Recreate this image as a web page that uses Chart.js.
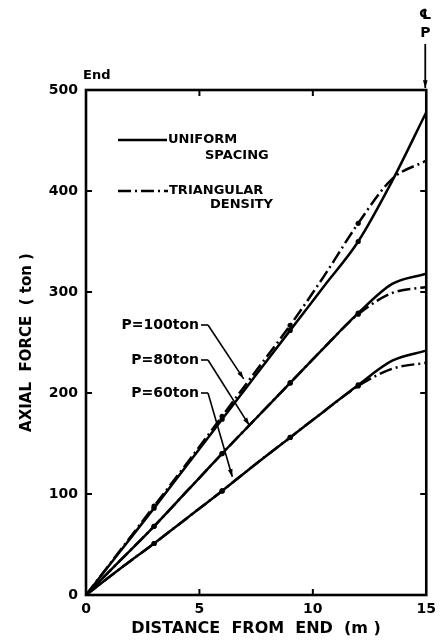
<!DOCTYPE html>
<html>
<head>
<meta charset="utf-8">
<script src="https://cdn.jsdelivr.net/npm/chart.js@4.4.1/dist/chart.umd.min.js"></script>
<style>
html, body { margin: 0; padding: 0; background: #fff; }
#wrap { width: 442px; height: 644px; }
</style>
</head>
<body>
<div id="wrap"><canvas id="forceChart" width="442" height="644"></canvas></div>
<script>
// distance from end (m)
var distances = [0, 1.5, 3, 4.5, 6, 7.5, 9, 10.5, 12, 13.5, 15];
var markedAt = [3, 6, 9, 12];

// axial force (ton), uniform spacing
var uniform100 = [0, 43, 86, 130, 174, 218, 262, 306, 350, 410, 478];
var uniform80  = [0, 34, 68, 104, 140, 175, 210, 245, 279, 308, 318];
var uniform60  = [0, 26, 51, 77, 103, 130, 156, 182, 208, 232, 242];

// axial force (ton), triangular density
var triangular100 = [0, 44, 88, 132, 177, 222, 267, 316, 368, 412, 430];
var triangular80  = [0, 34, 68, 104, 140, 175, 210, 245, 278, 299, 305];
var triangular60  = [0, 26, 51, 77, 103, 130, 156, 182, 207, 224, 230];

var xTicks = [0, 5, 10, 15];
var yTicks = [0, 100, 200, 300, 400, 500];

var loadLabels = ["P=100ton", "P=80ton", "P=60ton"];

var FONT = "'DejaVu Sans', sans-serif";

function pts(ys) {
  return distances.map(function (d, i) { return { x: d, y: ys[i] }; });
}

function line(label, ys, dashed) {
  return {
    label: label,
    data: pts(ys),
    borderColor: "#000",
    borderWidth: 2.5,
    borderDash: dashed ? [13, 4, 2, 4] : [],
    cubicInterpolationMode: "monotone",
    fill: false,
    pointRadius: function (c) { return markedAt.indexOf(distances[c.dataIndex]) >= 0 ? 2.6 : 0; },
    pointBackgroundColor: "#000",
    pointBorderWidth: 0
  };
}

function arrow(ctx, x0, y0, x1, y1) {
  var a = Math.atan2(y1 - y0, x1 - x0);
  ctx.beginPath();
  ctx.moveTo(x0, y0);
  ctx.lineTo(x1, y1);
  ctx.stroke();
  ctx.beginPath();
  ctx.moveTo(x1, y1);
  ctx.lineTo(x1 - 8 * Math.cos(a - 0.3), y1 - 8 * Math.sin(a - 0.3));
  ctx.lineTo(x1 - 8 * Math.cos(a + 0.3), y1 - 8 * Math.sin(a + 0.3));
  ctx.closePath();
  ctx.fill();
}

var framePlugin = {
  id: "frame",
  afterDatasetsDraw: function (chart) {
    var ctx = chart.ctx;
    var area = chart.chartArea;
    var xs = chart.scales.x, ys = chart.scales.y;
    ctx.save();
    ctx.strokeStyle = "#000";
    ctx.fillStyle = "#000";
    ctx.lineWidth = 2.6;
    ctx.strokeRect(area.left, area.top, area.right - area.left, area.bottom - area.top);

    // inward ticks
    ctx.lineWidth = 2;
    ctx.beginPath();
    yTicks.slice(1, -1).forEach(function (v) {
      var py = ys.getPixelForValue(v);
      ctx.moveTo(area.left, py); ctx.lineTo(area.left + 6, py);
      ctx.moveTo(area.right, py); ctx.lineTo(area.right - 6, py);
    });
    xTicks.slice(1, -1).forEach(function (v) {
      var px = xs.getPixelForValue(v);
      ctx.moveTo(px, area.top); ctx.lineTo(px, area.top + 6);
      ctx.moveTo(px, area.bottom); ctx.lineTo(px, area.bottom - 6);
    });
    ctx.stroke();

    // legend
    ctx.lineWidth = 2.4;
    ctx.beginPath();
    ctx.moveTo(118, 140); ctx.lineTo(167, 140);
    ctx.stroke();
    ctx.setLineDash([13, 4, 2, 4]);
    ctx.beginPath();
    ctx.moveTo(118, 191); ctx.lineTo(168, 191);
    ctx.stroke();
    ctx.setLineDash([]);
    ctx.font = "bold 13px " + FONT;
    ctx.textBaseline = "middle";
    ctx.textAlign = "left";
    ctx.fillText("UNIFORM", 168, 140);
    ctx.fillText("SPACING", 205, 156);
    ctx.fillText("TRIANGULAR", 169, 191);
    ctx.fillText("DENSITY", 210, 205);

    // load labels with leaders
    ctx.font = "bold 14px " + FONT;
    ctx.textAlign = "right";
    var labelY = [325, 360, 393];
    var tips = [[6.95, 214], [7.2, 168], [6.45, 117]];
    ctx.lineWidth = 1.6;
    loadLabels.forEach(function (t, i) {
      ctx.fillText(t, 199, labelY[i]);
      var tx = xs.getPixelForValue(tips[i][0]);
      var ty = ys.getPixelForValue(tips[i][1]);
      ctx.beginPath();
      ctx.moveTo(201, labelY[i]); ctx.lineTo(208, labelY[i]);
      ctx.stroke();
      arrow(ctx, 208, labelY[i], tx, ty);
    });

    // End / centre line marks
    ctx.textAlign = "left";
    ctx.font = "bold 13px " + FONT;
    ctx.fillText("End", 83, 76);
    ctx.textAlign = "center";
    ctx.font = "bold 14px " + FONT;
    ctx.fillText("\u2104", area.right - 1, 15);
    ctx.fillText("P", area.right - 1, 33);
    ctx.lineWidth = 1.8;
    arrow(ctx, area.right - 1, 44, area.right - 1, area.top - 2);
    ctx.restore();
  }
};

new Chart(document.getElementById("forceChart"), {
  type: "line",
  data: {
    datasets: [
      line("Uniform P=100", uniform100, false),
      line("Triangular P=100", triangular100, true),
      line("Uniform P=80", uniform80, false),
      line("Triangular P=80", triangular80, true),
      line("Uniform P=60", uniform60, false),
      line("Triangular P=60", triangular60, true)
    ]
  },
  options: {
    responsive: false,
    animation: false,
    devicePixelRatio: 1,
    layout: { padding: { left: 0, top: 90, right: 9, bottom: 0 } },
    plugins: { legend: { display: false }, tooltip: { enabled: false } },
    scales: {
      x: {
        type: "linear",
        min: 0, max: 15,
        afterBuildTicks: function (s) { s.ticks = xTicks.map(function (v) { return { value: v }; }); },
        afterFit: function (s) { s.height = 49; },
        grid: { display: false, drawTicks: false },
        border: { display: false },
        ticks: { color: "#000", padding: 6, maxRotation: 0, font: { family: FONT, weight: "bold", size: 14 } },
        title: { display: true, text: "DISTANCE  FROM  END  (m )", color: "#000", padding: { top: 0, bottom: 6 },
                 font: { family: FONT, weight: "bold", size: 16 } }
      },
      y: {
        type: "linear",
        min: 0, max: 500,
        afterBuildTicks: function (s) { s.ticks = yTicks.map(function (v) { return { value: v }; }); },
        afterFit: function (s) { s.width = 86; },
        grid: { display: false, drawTicks: false },
        border: { display: false },
        ticks: { color: "#000", padding: 8, font: { family: FONT, weight: "bold", size: 14 } },
        title: { display: true, text: "AXIAL  FORCE  ( ton )", color: "#000", padding: { top: 18, bottom: 0 },
                 font: { family: FONT, weight: "bold", size: 15 } }
      }
    }
  },
  plugins: [framePlugin]
});
</script>
</body>
</html>
